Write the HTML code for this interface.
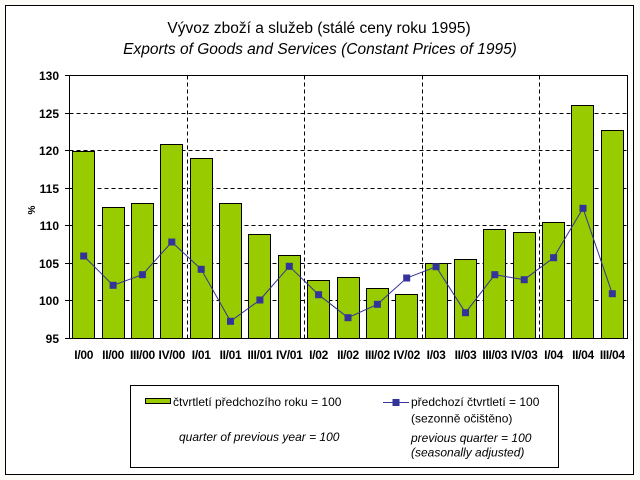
<!DOCTYPE html>
<html>
<head>
<meta charset="utf-8">
<style>
html,body{margin:0;padding:0;background:#fdfbf7;}
svg{display:block;font-family:"Liberation Sans",Arial,sans-serif;}
</style>
</head>
<body>
<svg width="640" height="480" viewBox="0 0 640 480" xmlns="http://www.w3.org/2000/svg">
<rect x="0" y="0" width="640" height="480" fill="#fdfbf7"/>
<rect x="5.5" y="5.5" width="628" height="469" fill="#ffffff" stroke="#000" stroke-width="1"/>

<text x="319" y="33" font-size="15.5" text-anchor="middle" fill="#000">Vývoz zboží a služeb (stálé ceny roku 1995)</text>
<text x="320" y="54" font-size="15.5" font-style="italic" text-anchor="middle" fill="#000">Exports of Goods and Services (Constant Prices of 1995)</text>

<!-- gridlines -->
<g stroke="#000" stroke-width="1" stroke-dasharray="4,3" fill="none">
<line x1="69.5" y1="113.5" x2="627.5" y2="113.5"/>
<line x1="69.5" y1="150.5" x2="627.5" y2="150.5"/>
<line x1="69.5" y1="188.5" x2="627.5" y2="188.5"/>
<line x1="69.5" y1="225.5" x2="627.5" y2="225.5"/>
<line x1="69.5" y1="263.5" x2="627.5" y2="263.5"/>
<line x1="69.5" y1="300.5" x2="627.5" y2="300.5"/>
<line x1="187.5" y1="75.5" x2="187.5" y2="338.5"/>
<line x1="304.5" y1="75.5" x2="304.5" y2="338.5"/>
<line x1="422.5" y1="75.5" x2="422.5" y2="338.5"/>
<line x1="539.5" y1="75.5" x2="539.5" y2="338.5"/>
</g>

<!-- bars -->
<g fill="#99cc00" stroke="#000" stroke-width="1">
<rect x="72.5" y="151.5" width="22" height="187"/>
<rect x="102.5" y="207.5" width="22" height="131"/>
<rect x="131.5" y="203.5" width="22" height="135"/>
<rect x="160.5" y="144.5" width="22" height="194"/>
<rect x="190.5" y="158.5" width="22" height="180"/>
<rect x="219.5" y="203.5" width="22" height="135"/>
<rect x="248.5" y="234.5" width="22" height="104"/>
<rect x="278.5" y="255.5" width="22" height="83"/>
<rect x="307.5" y="280.5" width="22" height="58"/>
<rect x="337.5" y="277.5" width="22" height="61"/>
<rect x="366.5" y="288.5" width="22" height="50"/>
<rect x="395.5" y="294.5" width="22" height="44"/>
<rect x="425.5" y="263.5" width="22" height="75"/>
<rect x="454.5" y="259.5" width="22" height="79"/>
<rect x="483.5" y="229.5" width="22" height="109"/>
<rect x="513.5" y="232.5" width="22" height="106"/>
<rect x="542.5" y="222.5" width="22" height="116"/>
<rect x="571.5" y="105.5" width="22" height="233"/>
<rect x="601.5" y="130.5" width="22" height="208"/>
</g>

<!-- plot border -->
<rect x="69.5" y="75.5" width="558" height="263" fill="none" stroke="#000" stroke-width="1"/>

<!-- y ticks -->
<g stroke="#000" stroke-width="1">
<line x1="65" y1="75.5" x2="69.5" y2="75.5"/>
<line x1="65" y1="113.5" x2="69.5" y2="113.5"/>
<line x1="65" y1="150.5" x2="69.5" y2="150.5"/>
<line x1="65" y1="188.5" x2="69.5" y2="188.5"/>
<line x1="65" y1="225.5" x2="69.5" y2="225.5"/>
<line x1="65" y1="263.5" x2="69.5" y2="263.5"/>
<line x1="65" y1="300.5" x2="69.5" y2="300.5"/>
<line x1="65" y1="338.5" x2="69.5" y2="338.5"/>
</g>
<g font-size="12" font-weight="bold" text-anchor="end" fill="#000">
<text x="59" y="80">130</text>
<text x="59" y="118">125</text>
<text x="59" y="155">120</text>
<text x="59" y="193">115</text>
<text x="59" y="230">110</text>
<text x="59" y="268">105</text>
<text x="59" y="305">100</text>
<text x="59" y="343">95</text>
</g>
<text transform="translate(35,210) rotate(-90)" font-size="10" font-weight="bold" text-anchor="middle" fill="#000">%</text>

<!-- x labels -->
<g font-size="12" font-weight="bold" text-anchor="middle" fill="#000" letter-spacing="-0.3">
<text x="83.7" y="359">I/00</text>
<text x="113.1" y="359">II/00</text>
<text x="142.4" y="359">III/00</text>
<text x="171.8" y="359">IV/00</text>
<text x="201.2" y="359">I/01</text>
<text x="230.5" y="359">II/01</text>
<text x="259.9" y="359">III/01</text>
<text x="289.3" y="359">IV/01</text>
<text x="318.6" y="359">I/02</text>
<text x="348" y="359">II/02</text>
<text x="377.4" y="359">III/02</text>
<text x="406.7" y="359">IV/02</text>
<text x="436.1" y="359">I/03</text>
<text x="465.5" y="359">II/03</text>
<text x="494.8" y="359">III/03</text>
<text x="524.2" y="359">IV/03</text>
<text x="553.6" y="359">I/04</text>
<text x="583" y="359">II/04</text>
<text x="612.3" y="359">III/04</text>
</g>

<!-- line series -->
<polyline fill="none" stroke="#333399" stroke-width="1" points="83.7,256 113.1,285.3 142.4,274.7 171.8,242 201.2,269.3 230.5,321.3 259.9,300 289.3,266.3 318.6,294.7 348,317.7 377.4,304.3 406.7,278 436.1,266.7 465.5,312.7 494.8,274.7 524.2,279.7 553.6,257.7 583,208.3 612.3,293.7"/>
<g fill="#333399">
<rect x="80.2" y="252.5" width="7" height="7"/>
<rect x="109.6" y="281.8" width="7" height="7"/>
<rect x="138.9" y="271.2" width="7" height="7"/>
<rect x="168.3" y="238.5" width="7" height="7"/>
<rect x="197.7" y="265.8" width="7" height="7"/>
<rect x="227" y="317.8" width="7" height="7"/>
<rect x="256.4" y="296.5" width="7" height="7"/>
<rect x="285.8" y="262.8" width="7" height="7"/>
<rect x="315.1" y="291.2" width="7" height="7"/>
<rect x="344.5" y="314.2" width="7" height="7"/>
<rect x="373.9" y="300.8" width="7" height="7"/>
<rect x="403.2" y="274.5" width="7" height="7"/>
<rect x="432.6" y="263.2" width="7" height="7"/>
<rect x="462" y="309.2" width="7" height="7"/>
<rect x="491.3" y="271.2" width="7" height="7"/>
<rect x="520.7" y="276.2" width="7" height="7"/>
<rect x="550.1" y="254.2" width="7" height="7"/>
<rect x="579.5" y="204.8" width="7" height="7"/>
<rect x="608.8" y="290.2" width="7" height="7"/>
</g>

<!-- legend -->
<rect x="130.5" y="385.5" width="428" height="82" fill="#ffffff" stroke="#000" stroke-width="1"/>
<rect x="145.5" y="398.5" width="25" height="5" fill="#99cc00" stroke="#000" stroke-width="1"/>
<g font-size="12" fill="#000">
<text x="173" y="406">čtvrtletí předchozího roku = 100</text>
<text x="179" y="441" font-style="italic">quarter of previous year =  100</text>
<text x="411" y="406">předchozí čtvrtletí = 100</text>
<text x="411" y="422.5">(sezonně očištěno)</text>
<text x="411" y="442" font-style="italic">previous quarter =  100</text>
<text x="411" y="456.5" font-style="italic">(seasonally adjusted)</text>
</g>
<line x1="383" y1="402.5" x2="409" y2="402.5" stroke="#333399" stroke-width="1"/>
<rect x="392.5" y="399" width="7" height="7" fill="#333399"/>
</svg>
</body>
</html>
